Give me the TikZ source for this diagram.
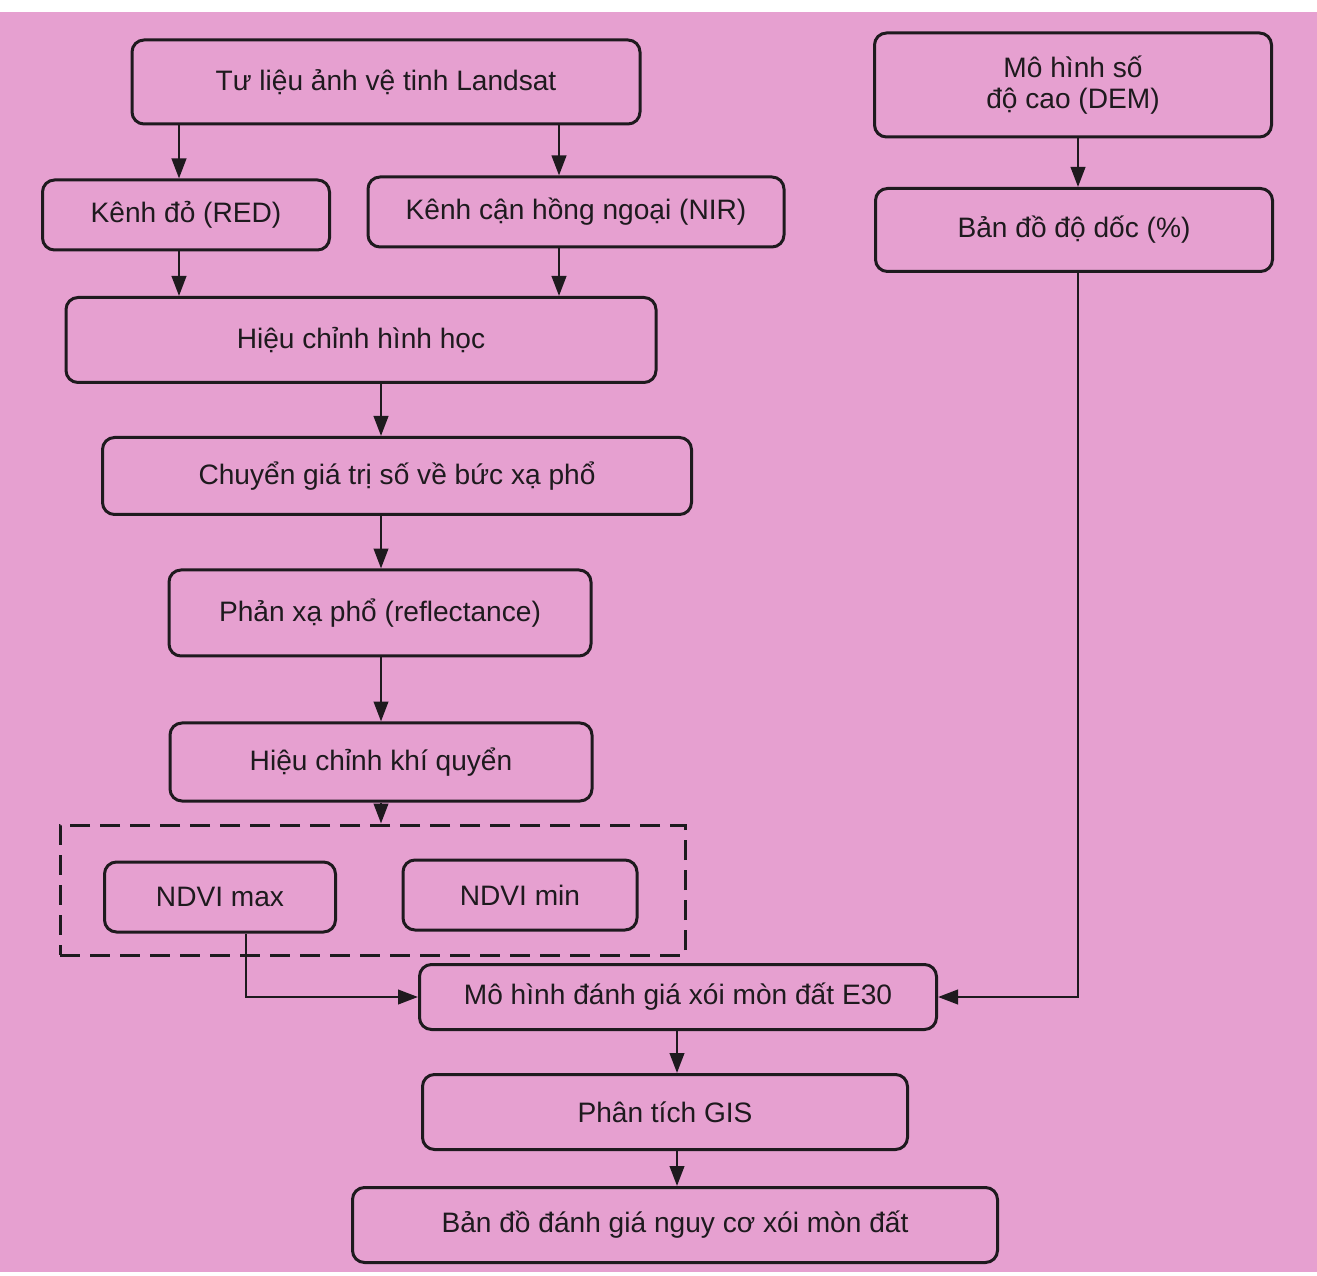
\documentclass[tikz,border=0pt]{standalone}
\usepackage{fontspec}
\setmainfont{Liberation Sans}
\usetikzlibrary{positioning}
\usetikzlibrary{arrows.meta}
\definecolor{paper-pink}{HTML}{E6A0D0}
\definecolor{ink}{HTML}{1E1A1E}
\newlength{\basisb}
\setlength{\basisb}{0.02cm}

\begin{document}
\begin{tikzpicture}[
    block/.style={draw=ink, line width=3\basisb, rounded corners=12\basisb, inner sep=0pt,
        align=center, font=\fontsize{16pt}{17.5pt}\selectfont, text=ink},
    flow/.style={-{Triangle[length=0.4cm, width=0.29cm]}, line width=2.5\basisb, draw=ink},
    group/.style={draw=ink, line width=3\basisb, dash pattern=on 20\basisb off 10\basisb}
]
    \useasboundingbox (0,0) rectangle (1317\basisb,1275\basisb);
    \fill[paper-pink] (0,3\basisb) rectangle (1317\basisb,1263\basisb);

    % columns for the arrows
    \coordinate (colRed) at (179\basisb,0);
    \coordinate (colNIR) at (559\basisb,0);
    \coordinate (colMain) at (381\basisb,0);
    \coordinate (colNDVI) at (246\basisb,0);
    \coordinate (colDEM) at (1078\basisb,0);
    \coordinate (colOut) at (677\basisb,0);

    % image processing chain
    \draw (386\basisb,1193\basisb)
		node[block, minimum width=508\basisb, minimum height=84\basisb]
			(Landsat) {Tư liệu ảnh vệ tinh Landsat};
    \draw (186\basisb,1060\basisb)
		node[block, minimum width=287\basisb, minimum height=70\basisb]
			(RedBand) {Kênh đỏ (RED)};
    \draw (576\basisb,1063\basisb)
		node[block, minimum width=416\basisb, minimum height=70\basisb]
			(NIRBand) {Kênh cận hồng ngoại (NIR)};
    \draw (361\basisb,935\basisb)
		node[block, minimum width=590\basisb, minimum height=85\basisb]
			(GeoCorrection) {Hiệu chỉnh hình học};
    \draw (397\basisb,799\basisb)
		node[block, minimum width=589\basisb, minimum height=77\basisb]
			(Radiance) {Chuyển giá trị số về bức xạ phổ};
    \draw (380\basisb,662\basisb)
		node[block, minimum width=422\basisb, minimum height=86\basisb]
			(Reflectance) {Phản xạ phổ (reflectance)};
    \draw (381\basisb,513\basisb)
		node[block, minimum width=422\basisb, minimum height=78\basisb]
			(AtmosCorrection) {Hiệu chỉnh khí quyển};

    % NDVI group
    \draw (372.5\basisb,385\basisb)
		node[group, minimum width=625\basisb, minimum height=130\basisb, inner sep=0pt]
			(NDVIGroup) {};
    \draw (220\basisb,378\basisb)
		node[block, minimum width=231\basisb, minimum height=70\basisb]
			(NDVIMax) {NDVI max};
    \draw (520\basisb,380\basisb)
		node[block, minimum width=234\basisb, minimum height=70\basisb]
			(NDVIMin) {NDVI min};

    % terrain branch
    \draw (1073\basisb,1190\basisb)
		node[block, minimum width=397\basisb, minimum height=104\basisb]
			(DEM) {Mô hình số\\độ cao (DEM)};
    \draw (1074\basisb,1045\basisb)
		node[block, minimum width=397\basisb, minimum height=83\basisb]
			(SlopeMap) {Bản đồ độ dốc (\%)};

    % model and output
    \draw (678\basisb,278\basisb)
		node[block, minimum width=517\basisb, minimum height=65\basisb]
			(E30Model) {Mô hình đánh giá xói mòn đất E30};
    \draw (665\basisb,163\basisb)
		node[block, minimum width=485\basisb, minimum height=75\basisb]
			(GISAnalysis) {Phân tích GIS};
    \draw (675\basisb,50\basisb)
		node[block, minimum width=645\basisb, minimum height=75\basisb]
			(RiskMap) {Bản đồ đánh giá nguy cơ xói mòn đất};

    \draw[flow] (colRed |- Landsat.south) -- (colRed |- RedBand.north);
    \draw[flow] (colNIR |- Landsat.south) -- (colNIR |- NIRBand.north);
    \draw[flow] (colRed |- RedBand.south) -- (colRed |- GeoCorrection.north);
    \draw[flow] (colNIR |- NIRBand.south) -- (colNIR |- GeoCorrection.north);
    \draw[flow] (colMain |- GeoCorrection.south) -- (colMain |- Radiance.north);
    \draw[flow] (colMain |- Radiance.south) -- (colMain |- Reflectance.north);
    \draw[flow] (colMain |- Reflectance.south) -- (colMain |- AtmosCorrection.north);
    \draw[flow] (colMain |- AtmosCorrection.south) -- (colMain |- NDVIGroup.north);
    \draw[flow] (colNDVI |- NDVIMax.south) |- (E30Model.west);
    \draw[flow] (colDEM |- DEM.south) -- (colDEM |- SlopeMap.north);
    \draw[flow] (colDEM |- SlopeMap.south) |- (E30Model.east);
    \draw[flow] (colOut |- E30Model.south) -- (colOut |- GISAnalysis.north);
    \draw[flow] (colOut |- GISAnalysis.south) -- (colOut |- RiskMap.north);
\end{tikzpicture}
\end{document}
